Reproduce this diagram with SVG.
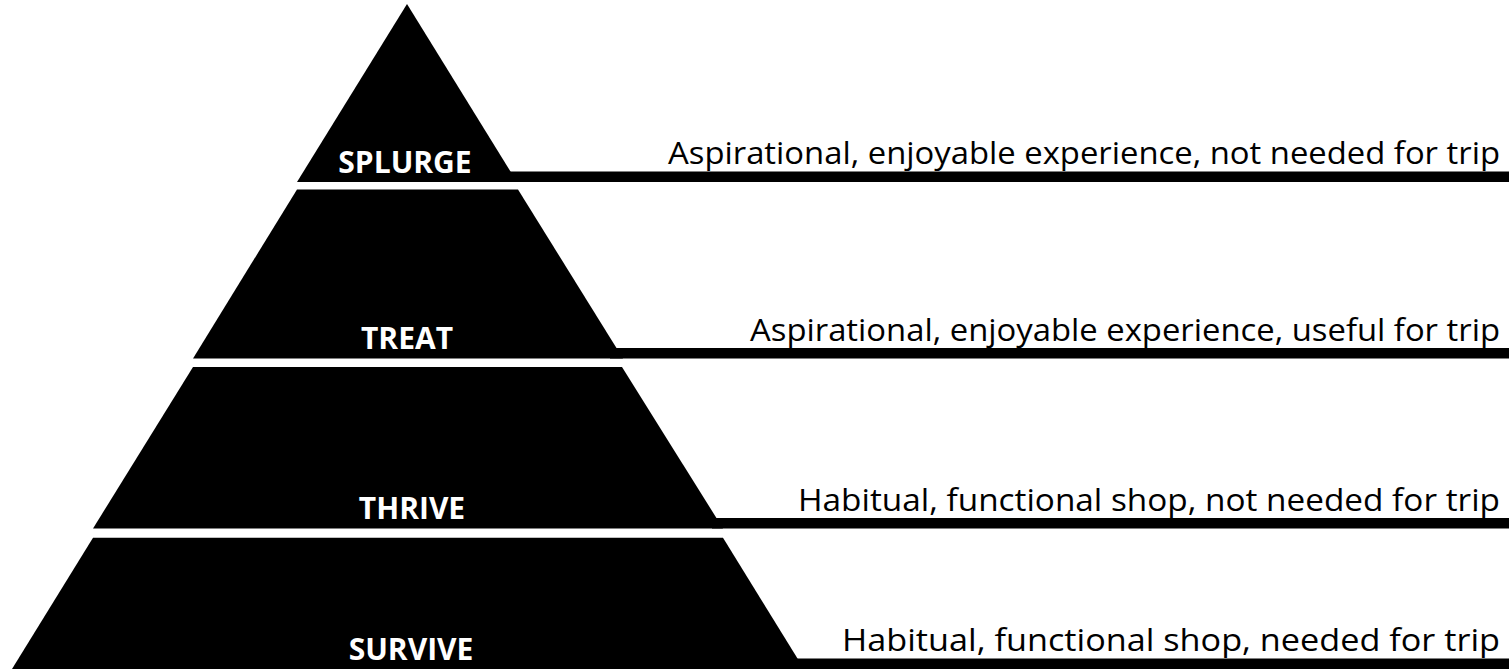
<svg xmlns="http://www.w3.org/2000/svg" width="1509" height="671" viewBox="0 0 1509 671">
  <style>
    .tier { fill: #000000; }
    .bar { fill: #000000; }
    .label { font-family: "Open Sans", "Liberation Sans", sans-serif; font-weight: bold; font-size: 30px; fill: #ffffff; text-anchor: middle; }
    .desc { font-family: "Open Sans", "Liberation Sans", sans-serif; font-size: 31px; fill: #000000; text-anchor: end; }
  </style>
  <rect x="0" y="0" width="1509" height="671" fill="#ffffff"/>
  <g id="connectors">
    <rect class="bar" x="505" y="171.5" width="1004" height="10.5"/>
    <rect class="bar" x="610" y="348" width="899" height="10.5"/>
    <rect class="bar" x="712" y="518" width="797" height="10.5"/>
    <rect class="bar" x="793" y="658.5" width="716" height="10.5"/>
  </g>
  <g id="splurge">
    <polygon class="tier" points="407,4 517,182 297,182"/>
    <text class="label" x="405" y="173">SPLURGE</text>
    <text class="desc" x="1500" y="164" textLength="832" lengthAdjust="spacingAndGlyphs">Aspirational, enjoyable experience, not needed for trip</text>
  </g>
  <g id="treat">
    <polygon class="tier" points="297,189.5 518,189.5 623,358.5 193,358.5"/>
    <text class="label" x="407" y="349">TREAT</text>
    <text class="desc" x="1500" y="341" textLength="750" lengthAdjust="spacingAndGlyphs">Aspirational, enjoyable experience, useful for trip</text>
  </g>
  <g id="thrive">
    <polygon class="tier" points="193,367 622,367 723,528.5 93,528.5"/>
    <text class="label" x="412" y="519">THRIVE</text>
    <text class="desc" x="1500" y="511" textLength="702" lengthAdjust="spacingAndGlyphs">Habitual, functional shop, not needed for trip</text>
  </g>
  <g id="survive">
    <polygon class="tier" points="93,537.7 723,537.7 804,669 12,669"/>
    <text class="label" x="411" y="660">SURVIVE</text>
    <text class="desc" x="1500" y="651" textLength="658" lengthAdjust="spacingAndGlyphs">Habitual, functional shop, needed for trip</text>
  </g>
</svg>
